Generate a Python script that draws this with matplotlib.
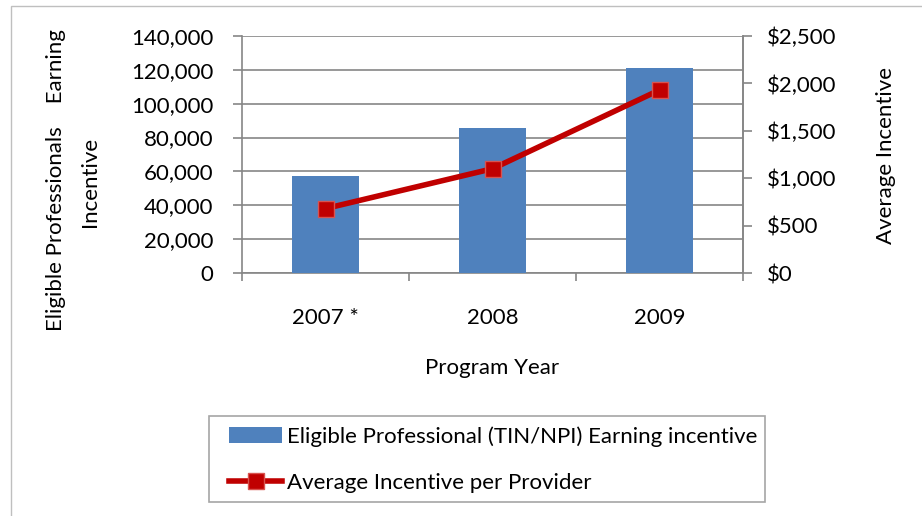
import matplotlib.pyplot as plt
from matplotlib.patches import Rectangle
from matplotlib.ticker import FuncFormatter, FixedLocator

# data
years = ['2007 *', '2008', '2009']
professionals = [57300, 85800, 120900]
avg_incentive = [680, 1100, 1930]

plt.rcParams['font.family'] = ['Lato', 'DejaVu Sans']
fs = 16

bar_color = '#4F81BD'
line_color = '#C00000'
grid_color = '#868686'

fig = plt.figure(figsize=(9.22, 5.16), dpi=100)
ax = fig.add_axes([242 / 922, 1 - 273 / 516, (743 - 242) / 922, (273 - 36) / 516])

# outer chart frame (cut off on right and bottom)
fig.patches.append(Rectangle((11 / 922, -0.05), 1.1, 1 - 6 / 516 + 0.05,
                             transform=fig.transFigure, fill=False,
                             edgecolor='#BFBFBF', lw=1))

x = range(len(years))
bars = ax.bar(x, professionals, width=0.4, color=bar_color, zorder=3,
              label='Eligible Professional (TIN/NPI) Earning incentive')
ax.set_xlim(-0.5, 2.5)
ax.set_ylim(0, 140000)
ax.set_yticks(range(0, 140001, 20000))
ax.yaxis.set_major_formatter(FuncFormatter(lambda v, p: f'{int(v):,}'))
ax.grid(axis='y', color=grid_color, lw=1.2, zorder=0)
ax.set_axisbelow(True)

ax.xaxis.set_major_locator(FixedLocator([-0.5, 0.5, 1.5, 2.5]))
ax.xaxis.set_major_formatter(FuncFormatter(lambda v, p: ''))
ax.xaxis.set_minor_locator(FixedLocator(list(x)))
ax.set_xticklabels(years, minor=True)
ax.tick_params(axis='x', which='major', length=6, color=grid_color, width=1.2)
ax.tick_params(axis='x', which='minor', length=0, pad=25, labelsize=fs)
ax.tick_params(axis='y', length=6.5, color=grid_color, width=1.2, labelsize=fs, pad=14)

ax.spines['top'].set_visible(False)
for s in ['left', 'bottom', 'right']:
    ax.spines[s].set_color(grid_color)
    ax.spines[s].set_linewidth(1.2)

ax.set_xlabel('Program Year', fontsize=fs, labelpad=22)
fig.text(56 / 922, 1 - 180 / 516, 'Eligible Professionals    Earning',
         rotation=90, ha='center', va='center', fontsize=fs)
fig.text(90 / 922, 1 - 182 / 516, 'Incentive',
         rotation=90, ha='center', va='center', fontsize=fs)

ax2 = ax.twinx()
ax2.plot(x, avg_incentive, color=line_color, lw=4, marker='s', markersize=11,
         markerfacecolor=line_color, markeredgecolor='#D9534F', markeredgewidth=1,
         zorder=4, label='Average Incentive per Provider')
ax2.set_ylim(0, 2500)
ax2.set_yticks(range(0, 2501, 500))
ax2.yaxis.set_major_formatter(FuncFormatter(lambda v, p: f'${int(v):,}'))
ax2.tick_params(axis='y', length=6.5, color=grid_color, width=1.2, labelsize=fs, pad=11)
for s in ['top', 'left', 'bottom']:
    ax2.spines[s].set_visible(False)
ax2.spines['right'].set_color(grid_color)
ax2.spines['right'].set_linewidth(1.2)
fig.text(886 / 922, 1 - 155 / 516, 'Average Incentive',
         rotation=90, ha='center', va='center', fontsize=fs)

# legend without its own frame, frame drawn separately
leg = fig.legend(handles=[bars, ax2.lines[0]], loc='upper left',
                 bbox_to_anchor=(229 / 922, 1 - 426 / 516),
                 fontsize=fs, frameon=False,
                 borderpad=0, labelspacing=1.2, handlelength=2.4, handletextpad=0.2,
                 borderaxespad=0)
fig.patches.append(Rectangle((209 / 922, 1 - 502 / 516), (765 - 209) / 922, (502 - 416) / 516,
                             transform=fig.transFigure, fill=False,
                             edgecolor='#A6A6A6', lw=1.2))

fig.savefig('out.png', dpi=100)
